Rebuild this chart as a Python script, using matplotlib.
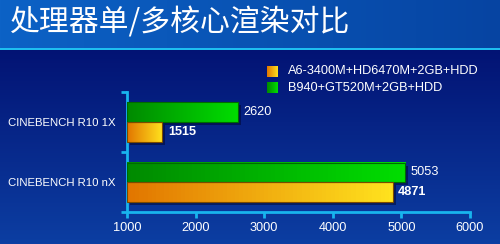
import numpy as np
import matplotlib.pyplot as plt
from matplotlib.patches import Rectangle
from matplotlib.transforms import offset_copy

# Chart data
title = '处理器单/多核心渲染对比'
categories = ['CINEBENCH R10 1X', 'CINEBENCH R10 nX']
series_names = ['A6-3400M+HD6470M+2GB+HDD', 'B940+GT520M+2GB+HDD']
amd_scores = [1515, 4871]
intel_scores = [2620, 5053]
x_ticks = [1000, 2000, 3000, 4000, 5000, 6000]

plt.rcParams['font.family'] = ['Liberation Sans', 'DejaVu Sans']

W, H = 500, 244
fig = plt.figure(figsize=(5, 2.44), dpi=100)


def c(r, g, b):
    return np.array([r, g, b]) / 255.0


# background: header band, cyan rule, navy gradient
bg = fig.add_axes([0, 0, 1, 1], zorder=0)
img = np.zeros((H, W, 3))
tv = np.linspace(0, 1, H)[:, None, None]
img[:] = c(0, 8, 104) + (c(12, 62, 162) - c(0, 8, 104)) * tv
th = np.linspace(0, 1, W)[None, :, None]
img[:48] = c(12, 98, 198) + (c(6, 68, 162) - c(12, 98, 198)) * th
img[48:50] = c(30, 190, 240)
bg.imshow(img, extent=[0, 1, 0, 1], aspect='auto', interpolation='bilinear')


def grad(cl, cr, n=64):
    t = np.linspace(0, 1, n)[None, :, None]
    return cl + (cr - cl) * t


orange_l, orange_r = c(226, 118, 0), c(255, 226, 30)
green_l, green_r = c(0, 138, 0), c(0, 222, 0)

# legend squares
bg.imshow(grad(orange_l, orange_r), extent=[0.534, 0.556, 0.684, 0.729], aspect='auto')
bg.imshow(grad(green_l, green_r), extent=[0.534, 0.556, 0.619, 0.664], aspect='auto')
bg.set_xlim(0, 1)
bg.set_ylim(0, 1)
bg.axis('off')
fig.text(0.576, 0.707, series_names[0], color='white', fontsize=9.2, va='center')
fig.text(0.576, 0.639, series_names[1], color='white', fontsize=9.2, va='center')

fig.text(0.02, 0.906, title, color='white', fontsize=21.5, va='center',
         family=['Noto Sans CJK SC', 'DejaVu Sans'])

# main axes
ax = fig.add_axes([0.254, 0.131, 0.686, 0.492], zorder=1)
ax.set_facecolor('none')
shadow = offset_copy(ax.transData, fig=fig, x=3, y=-3, units='dots')

centers = [1.5, 0.5]
h = 0.325


def gbar(x1, y0, y1, cl, cr, edge):
    ax.add_patch(Rectangle((1000, y0), x1 - 1000, y1 - y0, transform=shadow,
                           facecolor=(0, 0, 0.12), alpha=0.45, lw=0, zorder=2))
    ax.imshow(grad(cl, cr), extent=[1000, x1, y0, y1], aspect='auto', zorder=3)
    ax.add_patch(Rectangle((1000, y0), x1 - 1000, y1 - y0, facecolor='none',
                           edgecolor=edge, lw=0.8, zorder=4))


for yc, a, b in zip(centers, amd_scores, intel_scores):
    gbar(b, yc, yc + h, green_l, green_r, '#006a00')
    gbar(a, yc - h, yc, orange_l, orange_r, '#7a4a00')
    ax.annotate(str(b), (b, yc + h / 2), xytext=(4, 0), textcoords='offset points',
                color='white', fontsize=9.2, va='center', ha='left')
    ax.annotate(str(a), (a, yc - h / 2), xytext=(4, 0), textcoords='offset points',
                color='white', fontsize=9.2, fontweight='bold', va='center', ha='left')

ax.set_xlim(1000, 6000)
ax.set_ylim(0, 2)

cyan = '#18b4ee'
for s in ['top', 'right']:
    ax.spines[s].set_visible(False)
for s in ['left', 'bottom']:
    ax.spines[s].set_color(cyan)
    ax.spines[s].set_linewidth(2)

ax.set_xticks(x_ticks)
ax.set_xticklabels([str(v) for v in x_ticks])
ax.set_yticks([0, 1, 2])
ax.set_yticklabels(['', '', ''])
ax.set_yticks(centers, minor=True)
ax.set_yticklabels(categories, minor=True)
ax.tick_params(axis='both', which='major', color=cyan, width=2, length=4.3,
               labelcolor='white', labelsize=9.2)
ax.tick_params(axis='x', pad=3)
ax.tick_params(axis='y', which='minor', length=0, pad=8, labelcolor='white',
               labelsize=8.2)

fig.savefig('out.png', dpi=100)
